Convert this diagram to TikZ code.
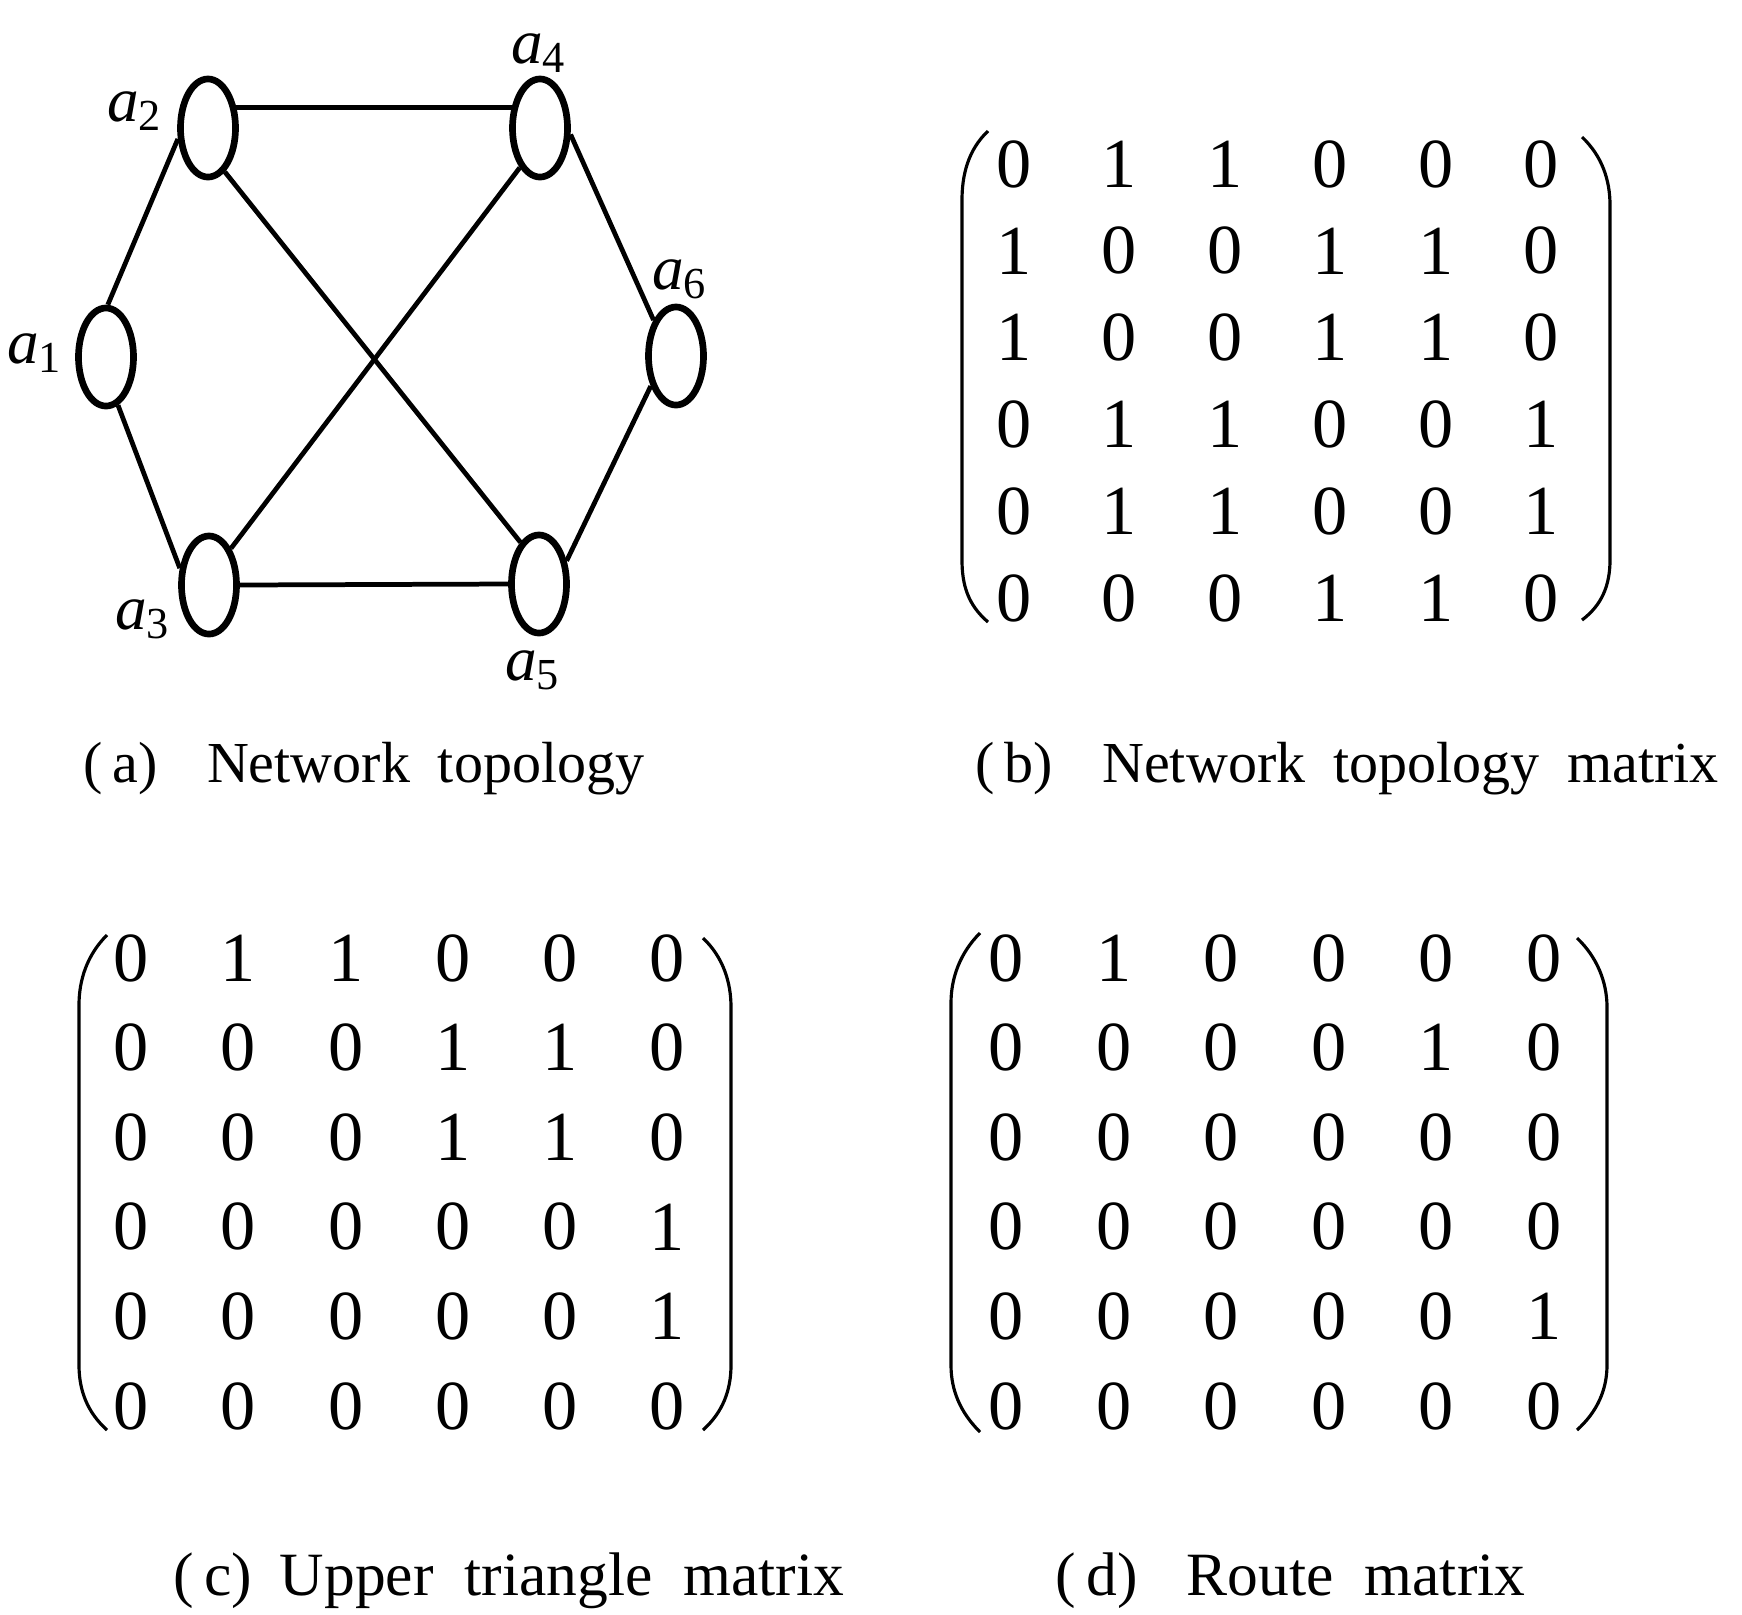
\documentclass[tikz,border=0pt]{standalone}
\usepackage{fontspec}
\setmainfont{Liberation Serif}
\usepackage{tikz}
\usetikzlibrary{shapes.geometric}

\tikzset{
  host/.style={draw, ellipse, line width=1.9pt, minimum width=0.55cm, minimum height=0.98cm, inner sep=0pt},
  link/.style={line width=1.35pt},
  hostlabel/.style={inner sep=0pt, font=\fontsize{18}{20}\selectfont},
  entry/.style={inner sep=0pt, font=\fontsize{20}{22}\selectfont},
  brace/.style={line width=0.9pt},
  caption/.style={anchor=base west, inner sep=0pt, font={\fontsize{16.5}{20}\selectfont\spaceskip=0.48em\relax}},
  widecaption/.style={caption, font={\fontsize{17.5}{21}\selectfont\spaceskip=0.5em\relax}}
}

\begin{document}
\begin{tikzpicture}[x=0.01cm, y=-0.01cm]
\useasboundingbox (0,0) rectangle (1742,1614);

% Network topology
\node[host] (a1) at (106,357) {};
\node[host] (a2) at (208,128) {};
\node[host] (a3) at (209,585) {};
\node[host] (a4) at (540,128) {};
\node[host] (a5) at (539,584) {};
\node[host] (a6) at (676,356) {};

\node[hostlabel] (l1) at (35,353) {\textit{a}\textsubscript{1}};
\node[hostlabel] (l2) at (135,111) {\textit{a}\textsubscript{2}};
\node[hostlabel] (l3) at (143,619) {\textit{a}\textsubscript{3}};
\node[hostlabel] (l4) at (539,53) {\textit{a}\textsubscript{4}};
\node[hostlabel] (l5) at (533,670) {\textit{a}\textsubscript{5}};
\node[hostlabel] (l6) at (680,279) {\textit{a}\textsubscript{6}};

% Links
\draw[link] (a1.88) -- (a2.200);
\draw[link] (a1.-76) -- (a3.150);
\draw[link] (a2.36) -- (a4.144);
\draw[link] (a2.-69) -- (a5.114);
\draw[link] (a4.243) -- (a3.59);
\draw[link] (a4.-12) -- (a6.122);
\draw[link] (a6.230) -- (a5.40);
\draw[link] (a3.0) -- (a5.180);

% Network topology matrix
\foreach \vals [count=\r from 0] in {{0,1,1,0,0,0},{1,0,0,1,1,0},{1,0,0,1,1,0},{0,1,1,0,0,1},{0,1,1,0,0,1},{0,0,0,1,1,0}}
  \foreach \v [count=\c from 0] in \vals
    \node[entry] (b\r\c) at ({1014+105.5*\c},{164+86.8*\r}) {\v};

% Upper triangle matrix
\foreach \vals [count=\r from 0] in {{0,1,1,0,0,0},{0,0,0,1,1,0},{0,0,0,1,1,0},{0,0,0,0,0,1},{0,0,0,0,0,1},{0,0,0,0,0,0}}
  \foreach \v [count=\c from 0] in \vals
    \node[entry] (c\r\c) at ({131+107.3*\c},{958+89.6*\r}) {\v};

% Route matrix
\foreach \vals [count=\r from 0] in {{0,1,0,0,0,0},{0,0,0,0,1,0},{0,0,0,0,0,0},{0,0,0,0,0,0},{0,0,0,0,0,1},{0,0,0,0,0,0}}
  \foreach \v [count=\c from 0] in \vals
    \node[entry] (d\r\c) at ({1006+107.6*\c},{958+89.6*\r}) {\v};

% Brackets
\draw[brace] (988,131) .. controls (968,150) and (962,175) .. (962,200) -- (962,560) .. controls (962,585) and (968,605) .. (988,622);
\draw[brace] (1582,137) .. controls (1602,156) and (1610,180) .. (1610,205) -- (1610,560) .. controls (1610,585) and (1602,605) .. (1582,620);
\draw[brace] (107,935) .. controls (87,955) and (79,980) .. (79,1005) -- (79,1365) .. controls (79,1390) and (87,1412) .. (107,1430);
\draw[brace] (703,938) .. controls (723,957) and (731,982) .. (731,1007) -- (731,1365) .. controls (731,1390) and (723,1412) .. (703,1430);
\draw[brace] (980,933) .. controls (960,953) and (951,978) .. (951,1003) -- (951,1365) .. controls (951,1390) and (960,1412) .. (980,1432);
\draw[brace] (1577,938) .. controls (1597,957) and (1607,982) .. (1607,1007) -- (1607,1365) .. controls (1607,1390) and (1597,1412) .. (1577,1430);

% Captions
\node[caption] (capa) at (83,782) {(\,a)\hspace{0.85em}Network topology};
\node[caption] (capb) at (975,782) {(\,b)\hspace{0.85em}Network topology matrix};
\node[widecaption] (capc) at (173,1595) {(\,c)\hspace{0.45em}Upper triangle matrix};
\node[widecaption] (capd) at (1055,1595) {(\,d)\hspace{0.8em}Route matrix};

\end{tikzpicture}
\end{document}
